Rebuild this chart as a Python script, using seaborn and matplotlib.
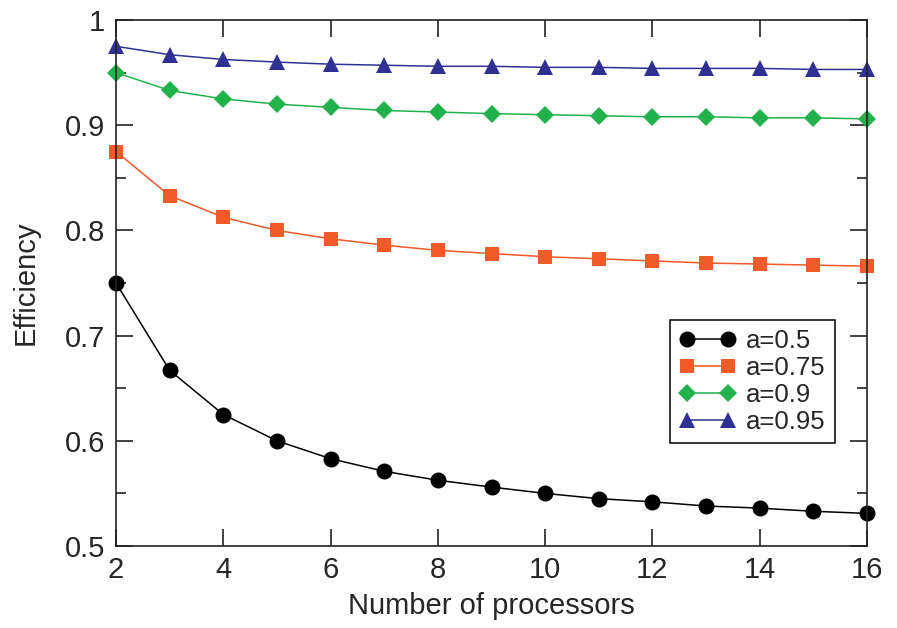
import numpy as np
import pandas as pd
import matplotlib
matplotlib.use('Agg')
import matplotlib.pyplot as plt
import seaborn as sns
from matplotlib.ticker import MultipleLocator

# data
processors = list(range(2, 17))
eff_05 = [0.750, 0.667, 0.625, 0.600, 0.583, 0.571, 0.5625, 0.556, 0.550, 0.545, 0.542, 0.538, 0.536, 0.533, 0.531]
eff_075 = [0.875, 0.833, 0.8125, 0.800, 0.792, 0.786, 0.781, 0.778, 0.775, 0.773, 0.771, 0.769, 0.768, 0.767, 0.766]
eff_09 = [0.950, 0.933, 0.925, 0.920, 0.917, 0.914, 0.9125, 0.911, 0.910, 0.909, 0.908, 0.908, 0.907, 0.907, 0.906]
eff_095 = [0.975, 0.967, 0.9625, 0.960, 0.958, 0.957, 0.956, 0.956, 0.955, 0.955, 0.954, 0.954, 0.954, 0.953, 0.953]
labels = ['a=0.5', 'a=0.75', 'a=0.9', 'a=0.95']

sns.set_style('ticks')
plt.rcParams['font.family'] = ['Liberation Sans', 'DejaVu Sans']

fig = plt.figure(figsize=(8.97, 6.28), dpi=100)
ax = fig.add_axes([116 / 897, 1 - 546 / 628, 751 / 897, 526 / 628])

series = [eff_05, eff_075, eff_09, eff_095]
colors = ['#000000', '#F15A29', '#22B24C', '#2E3192']
markers = ['o', 's', 'D', '^']
msizes = [11.5, 10, 9, 11]

for vals, lab, c, m, ms in zip(series, labels, colors, markers, msizes):
    sns.lineplot(x=processors, y=vals, ax=ax, color=c, marker=m, markersize=ms,
                 markeredgewidth=0, linewidth=1.1, label=lab, clip_on=False)

ax.set_xlim(2, 16)
ax.set_ylim(0.5, 1.0)
ax.xaxis.set_major_locator(MultipleLocator(2))
ax.yaxis.set_minor_locator(MultipleLocator(0.05))
ax.set_yticks([0.5, 0.6, 0.7, 0.8, 0.9, 1.0])
ax.set_yticklabels(['0.5', '0.6', '0.7', '0.8', '0.9', '1'])
ax.tick_params(which='both', direction='in', top=True, right=True, labelsize=21, width=1.2, color='#222222')
ax.tick_params(which='major', length=12)
ax.tick_params(axis='x', which='major', pad=7)
ax.tick_params(axis='y', which='major', pad=8)
ax.tick_params(which='minor', length=7)
for s in ax.spines.values():
    s.set_linewidth(1.2)
    s.set_color('#222222')

ax.set_xlabel('Number of processors', fontsize=21, labelpad=6)
ax.set_ylabel('Efficiency', fontsize=21, labelpad=18)

leg = ax.legend(loc='upper right', bbox_to_anchor=(0.957, 0.43), borderaxespad=0, fontsize=18.5,
                numpoints=2, handlelength=2.2, handletextpad=0.4, labelspacing=0.12, borderpad=0.35,
                fancybox=False, framealpha=1, edgecolor='black')
leg.get_frame().set_linewidth(1.1)

fig.savefig('out.png', dpi=100)
